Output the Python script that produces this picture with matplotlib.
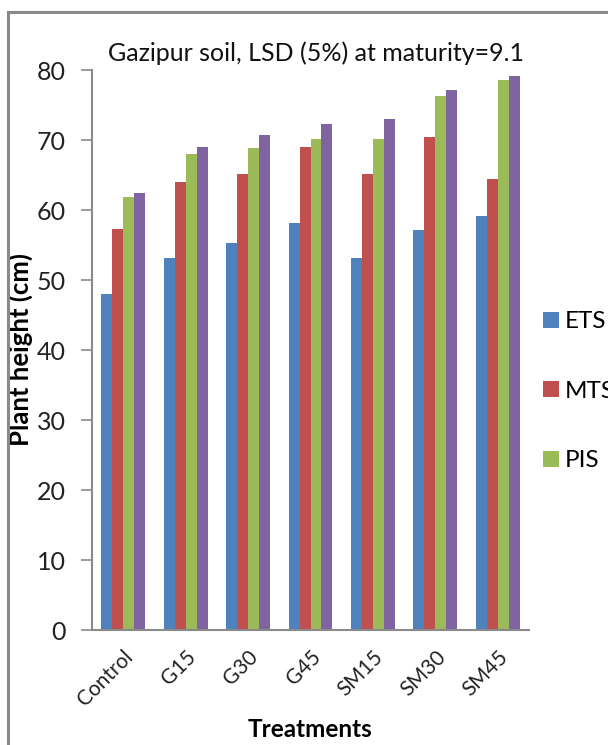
import matplotlib
matplotlib.use("Agg")
import matplotlib.pyplot as plt
import numpy as np
from matplotlib.patches import Rectangle
from matplotlib.lines import Line2D

# Plant height (cm) per treatment, four sampling stages
treatments = ["Control", "G15", "G30", "G45", "SM15", "SM30", "SM45"]
ets = [48.0, 53.2, 55.3, 58.2, 53.2, 57.1, 59.2]
mts = [57.3, 64.0, 65.2, 69.0, 65.2, 70.4, 64.4]
pis = [61.9, 68.0, 68.8, 70.2, 70.2, 76.3, 78.6]
mat = [62.5, 69.0, 70.7, 72.3, 73.0, 77.1, 79.2]
legend_names = ["ETS", "MTS", "PIS"]
yticks = [0, 10, 20, 30, 40, 50, 60, 70, 80]

colors = ["#4F81BD", "#C0504D", "#9BBB59", "#8064A2"]
plt.rcParams["font.family"] = ["Lato", "DejaVu Sans"]

W, H = 608, 745
fig = plt.figure(figsize=(W / 100, H / 100), dpi=100)

# outer chart frame (runs off the right and bottom edges)
fig.patches.append(Rectangle((8 / W, -0.1), 1.2, 1 - 12 / H + 0.1,
                             transform=fig.transFigure, fill=False,
                             edgecolor="#8a8a8a", linewidth=2.2))

ax = fig.add_axes([92 / W, 1 - 630 / H, (529 - 92) / W, (630 - 70) / H])
x = np.arange(len(treatments))
bw = 0.176
series = [ets, mts, pis, mat]
for i, vals in enumerate(series):
    ax.bar(x + (i - 1.5) * bw, vals, bw, color=colors[i], linewidth=0)

ax.set_xlim(-0.5, len(treatments) - 0.5)
ax.set_ylim(0, 80)
ax.set_yticks(yticks)
ax.set_yticklabels([str(t) for t in yticks], fontsize=18, color="#222222")
ax.set_xticks(x)
ax.set_xticklabels(treatments, rotation=45, ha="right", rotation_mode="anchor",
                   fontsize=15, color="#222222")
ax.tick_params(axis="x", length=0, pad=12)
ax.tick_params(axis="y", length=8, width=1.2, color="#8a8a8a", pad=11)
for s in ["top", "right"]:
    ax.spines[s].set_visible(False)
for s in ["left", "bottom"]:
    ax.spines[s].set_color("#8a8a8a")
    ax.spines[s].set_linewidth(1.5)

ax.set_ylabel("Plant height (cm)", fontsize=18.5, fontweight="bold")
ax.yaxis.set_label_coords(-0.135, 0.5)
ax.set_xlabel("Treatments", fontsize=17.5, fontweight="bold", va="center")
ax.xaxis.set_label_coords(0.5, -0.178)

fig.text(316 / W, 1 - 53 / H, "Gazipur soil, LSD (5%) at maturity=9.1",
         ha="center", va="center", fontsize=18, color="#111111")

handles = [Line2D([], [], marker="s", linestyle="", markersize=11,
                  markerfacecolor=colors[i], markeredgewidth=0)
           for i in range(3)]
fig.legend(handles, legend_names, loc="upper left",
           bbox_to_anchor=(539 / W, 1 - 311 / H), frameon=False,
           borderpad=0, borderaxespad=0,
           fontsize=17.5, handletextpad=0.05, labelspacing=2.0,
           handlelength=1.0)

fig.savefig("out.png", dpi=100, facecolor="white")
